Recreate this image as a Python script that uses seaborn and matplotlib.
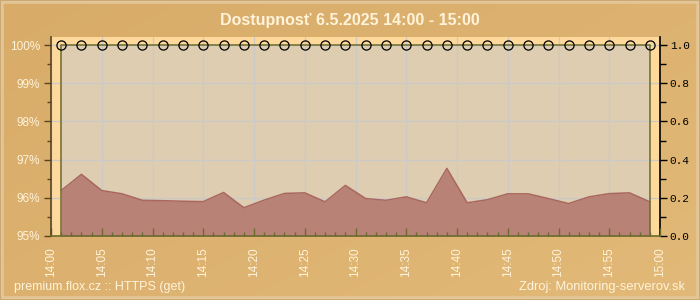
import matplotlib
matplotlib.use("Agg")
import matplotlib.pyplot as plt
from matplotlib.patches import Rectangle
from matplotlib.ticker import MultipleLocator
import numpy as np
import pandas as pd
import seaborn as sns

# ---- data ----
times = ["14:01", "14:03", "14:05", "14:07", "14:09", "14:11", "14:13", "14:15",
         "14:17", "14:19", "14:21", "14:23", "14:25", "14:27", "14:29", "14:31",
         "14:33", "14:35", "14:37", "14:39", "14:41", "14:43", "14:45", "14:47",
         "14:49", "14:51", "14:53", "14:55", "14:57", "14:59"]
availability = [100, 100, 100, 100, 100, 100, 100, 100, 100, 100,
                100, 100, 100, 100, 100, 100, 100, 100, 100, 100,
                100, 100, 100, 100, 100, 100, 100, 100, 100, 100]
response = [0.238, 0.323, 0.238, 0.221, 0.187, 0.185, 0.182, 0.180, 0.228, 0.148,
            0.188, 0.223, 0.226, 0.179, 0.265, 0.196, 0.187, 0.205, 0.174, 0.354,
            0.174, 0.190, 0.221, 0.221, 0.196, 0.170, 0.205, 0.222, 0.226, 0.179]
x_tick_labels = ["14:00", "14:05", "14:10", "14:15", "14:20", "14:25", "14:30",
                 "14:35", "14:40", "14:45", "14:50", "14:55", "15:00"]
left_tick_values = [95, 96, 97, 98, 99, 100]
left_tick_labels = ["95%", "96%", "97%", "98%", "99%", "100%"]
right_tick_values = [0.0, 0.2, 0.4, 0.6, 0.8, 1.0]
right_tick_labels = ["0.0", "0.2", "0.4", "0.6", "0.8", "1.0"]
title = "Dostupnosť 6.5.2025 14:00 - 15:00"
footer_left = "premium.flox.cz :: HTTPS (get)"
footer_right = "Zdroj: Monitoring-serverov.sk"


def to_minutes(s):
    h, m = s.split(":")
    return (int(h) - 14) * 60 + int(m)


df = pd.DataFrame({
    "minute": [to_minutes(t) for t in times],
    "availability": availability,
    "response": response,
})
x_tick_pos = [to_minutes(t) for t in x_tick_labels]

# ---- style ----
sns.set_theme(style="white")
plt.rcParams["font.family"] = ["Liberation Sans", "DejaVu Sans"]

CREAM = "#FFF3DA"
OLIVE = "#6B6B2E"
BROWN = "#5A4420"

fig = plt.figure(figsize=(7, 3), dpi=100)

# background gradient
bg = fig.add_axes([0, 0, 1, 1])
bg.set_axis_off()
gx = np.linspace(0, 1, 200)
gy = np.linspace(0, 1, 100)
GX, GY = np.meshgrid(gx, gy)
c1 = np.array([0xD8, 0xAB, 0x68]) / 255
c2 = np.array([0xE2, 0xB9, 0x78]) / 255
t = np.clip(0.55 * GX + 0.45 * (1 - GY), 0, 1)[..., None]
img = c1 * (1 - t) + c2 * t
bg.imshow(img, extent=[0, 1, 0, 1], aspect="auto", origin="lower")
bg.set_xlim(0, 1)
bg.set_ylim(0, 1)
bg.add_patch(Rectangle((0.0025, 0.006), 0.995, 0.988, transform=bg.transAxes,
                       fill=False, edgecolor="#E2C697", lw=2.6))
bg.add_patch(Rectangle((0, 0), 1, 1, transform=bg.transAxes,
                       fill=False, edgecolor="#C9A56F", lw=1.2))

# main axes (left: availability, top layer)
ax = fig.add_axes([51 / 700, 64 / 300, 609 / 700, 199 / 300])
ax2 = ax.twinx()
ax.set_zorder(2)
ax2.set_zorder(1)
ax.patch.set_visible(False)
ax2.patch.set_visible(True)
ax2.set_facecolor("#FFD99B")

ax.set_xlim(0, 60)
ax.set_ylim(95, 100.21)
ax2.set_ylim(0, 1.042)

# inner beige area + grid on ax2
x0, x1 = df["minute"].min(), df["minute"].max()
ax2.add_patch(Rectangle((x0, 0), x1 - x0, 1.0, facecolor="#DECDB1",
                        edgecolor="none", zorder=0.2))
ax2.xaxis.set_visible(True)
ax2.set_xticks(x_tick_pos)
ax2.tick_params(axis="x", length=0, labelbottom=False, labeltop=False)
ax2.set_yticks(right_tick_values)
ax2.grid(True, color="#CCCAC6", lw=1.0, zorder=0.5)
ax2.set_axisbelow(True)

# response area
ax2.fill_between(df["minute"], 0, df["response"], color="#B98276", lw=0, zorder=2)
sns.lineplot(data=df, x="minute", y="response", ax=ax2, color="#A9685F",
             lw=1.1, zorder=3, legend=False)
ax2.vlines([x0, x1], 0, 1.0, color=OLIVE, lw=1.1, zorder=4)

# availability line
sns.lineplot(data=df, x="minute", y="availability", ax=ax, color=OLIVE, lw=1.1,
             marker="o", markersize=6.6, markerfacecolor="none",
             markeredgecolor="black", markeredgewidth=0.9, zorder=5,
             legend=False, clip_on=False)

# x axis ticks on top layer
ax.set_xticks(x_tick_pos)
ax.set_xticklabels(x_tick_labels)
ax.xaxis.set_minor_locator(MultipleLocator(1))
ax.tick_params(axis="x", which="major", direction="in", length=6, width=1,
               color=OLIVE, labelcolor=CREAM, labelsize=8.5, rotation=90, pad=8)
ax.tick_params(axis="x", which="minor", direction="in", length=3, width=1,
               color=OLIVE)
ax.tick_params(axis="x", bottom=True, which="both")

# left axis
ax.set_yticks(left_tick_values)
ax.set_yticklabels(left_tick_labels)
ax.yaxis.set_minor_locator(MultipleLocator(0.5))
ax.tick_params(axis="y", which="major", direction="out", length=5, width=1,
               color=BROWN, labelcolor=CREAM, labelsize=8.5, pad=3, left=True)
ax.tick_params(axis="y", which="minor", direction="out", length=3, width=1,
               color=BROWN, left=True)

# right axis
ax2.set_yticklabels(right_tick_labels, family=["Liberation Mono", "DejaVu Sans Mono"])
ax2.yaxis.set_minor_locator(MultipleLocator(0.1))
ax2.tick_params(axis="y", which="major", direction="out", length=5, width=1,
                color="black", labelcolor="black", labelsize=8, pad=2, right=True)
ax2.tick_params(axis="y", which="minor", direction="out", length=4, width=1,
                color="black", right=True)

ax.set_xlabel("")
ax.set_ylabel("")
ax2.set_xlabel("")
ax2.set_ylabel("")

# spines
for s in ["top", "right"]:
    ax.spines[s].set_visible(False)
ax.spines["left"].set_color(BROWN)
ax.spines["left"].set_linewidth(1.2)
ax.spines["bottom"].set_color(OLIVE)
ax.spines["bottom"].set_linewidth(1.2)
for s in ["top", "left", "bottom"]:
    ax2.spines[s].set_visible(False)
ax2.spines["right"].set_color("black")
ax2.spines["right"].set_linewidth(1.2)

# texts
fig.text(0.5, 1 - 21 / 300, title, ha="center", va="center", color=CREAM,
         fontsize=11.5, fontweight="bold")
fig.text(14 / 700, 1 - 287 / 300, footer_left, ha="left", va="center",
         color=CREAM, fontsize=9)
fig.text(685 / 700, 1 - 287 / 300, footer_right, ha="right", va="center",
         color=CREAM, fontsize=9.3)

fig.savefig("out.png", dpi=100)
